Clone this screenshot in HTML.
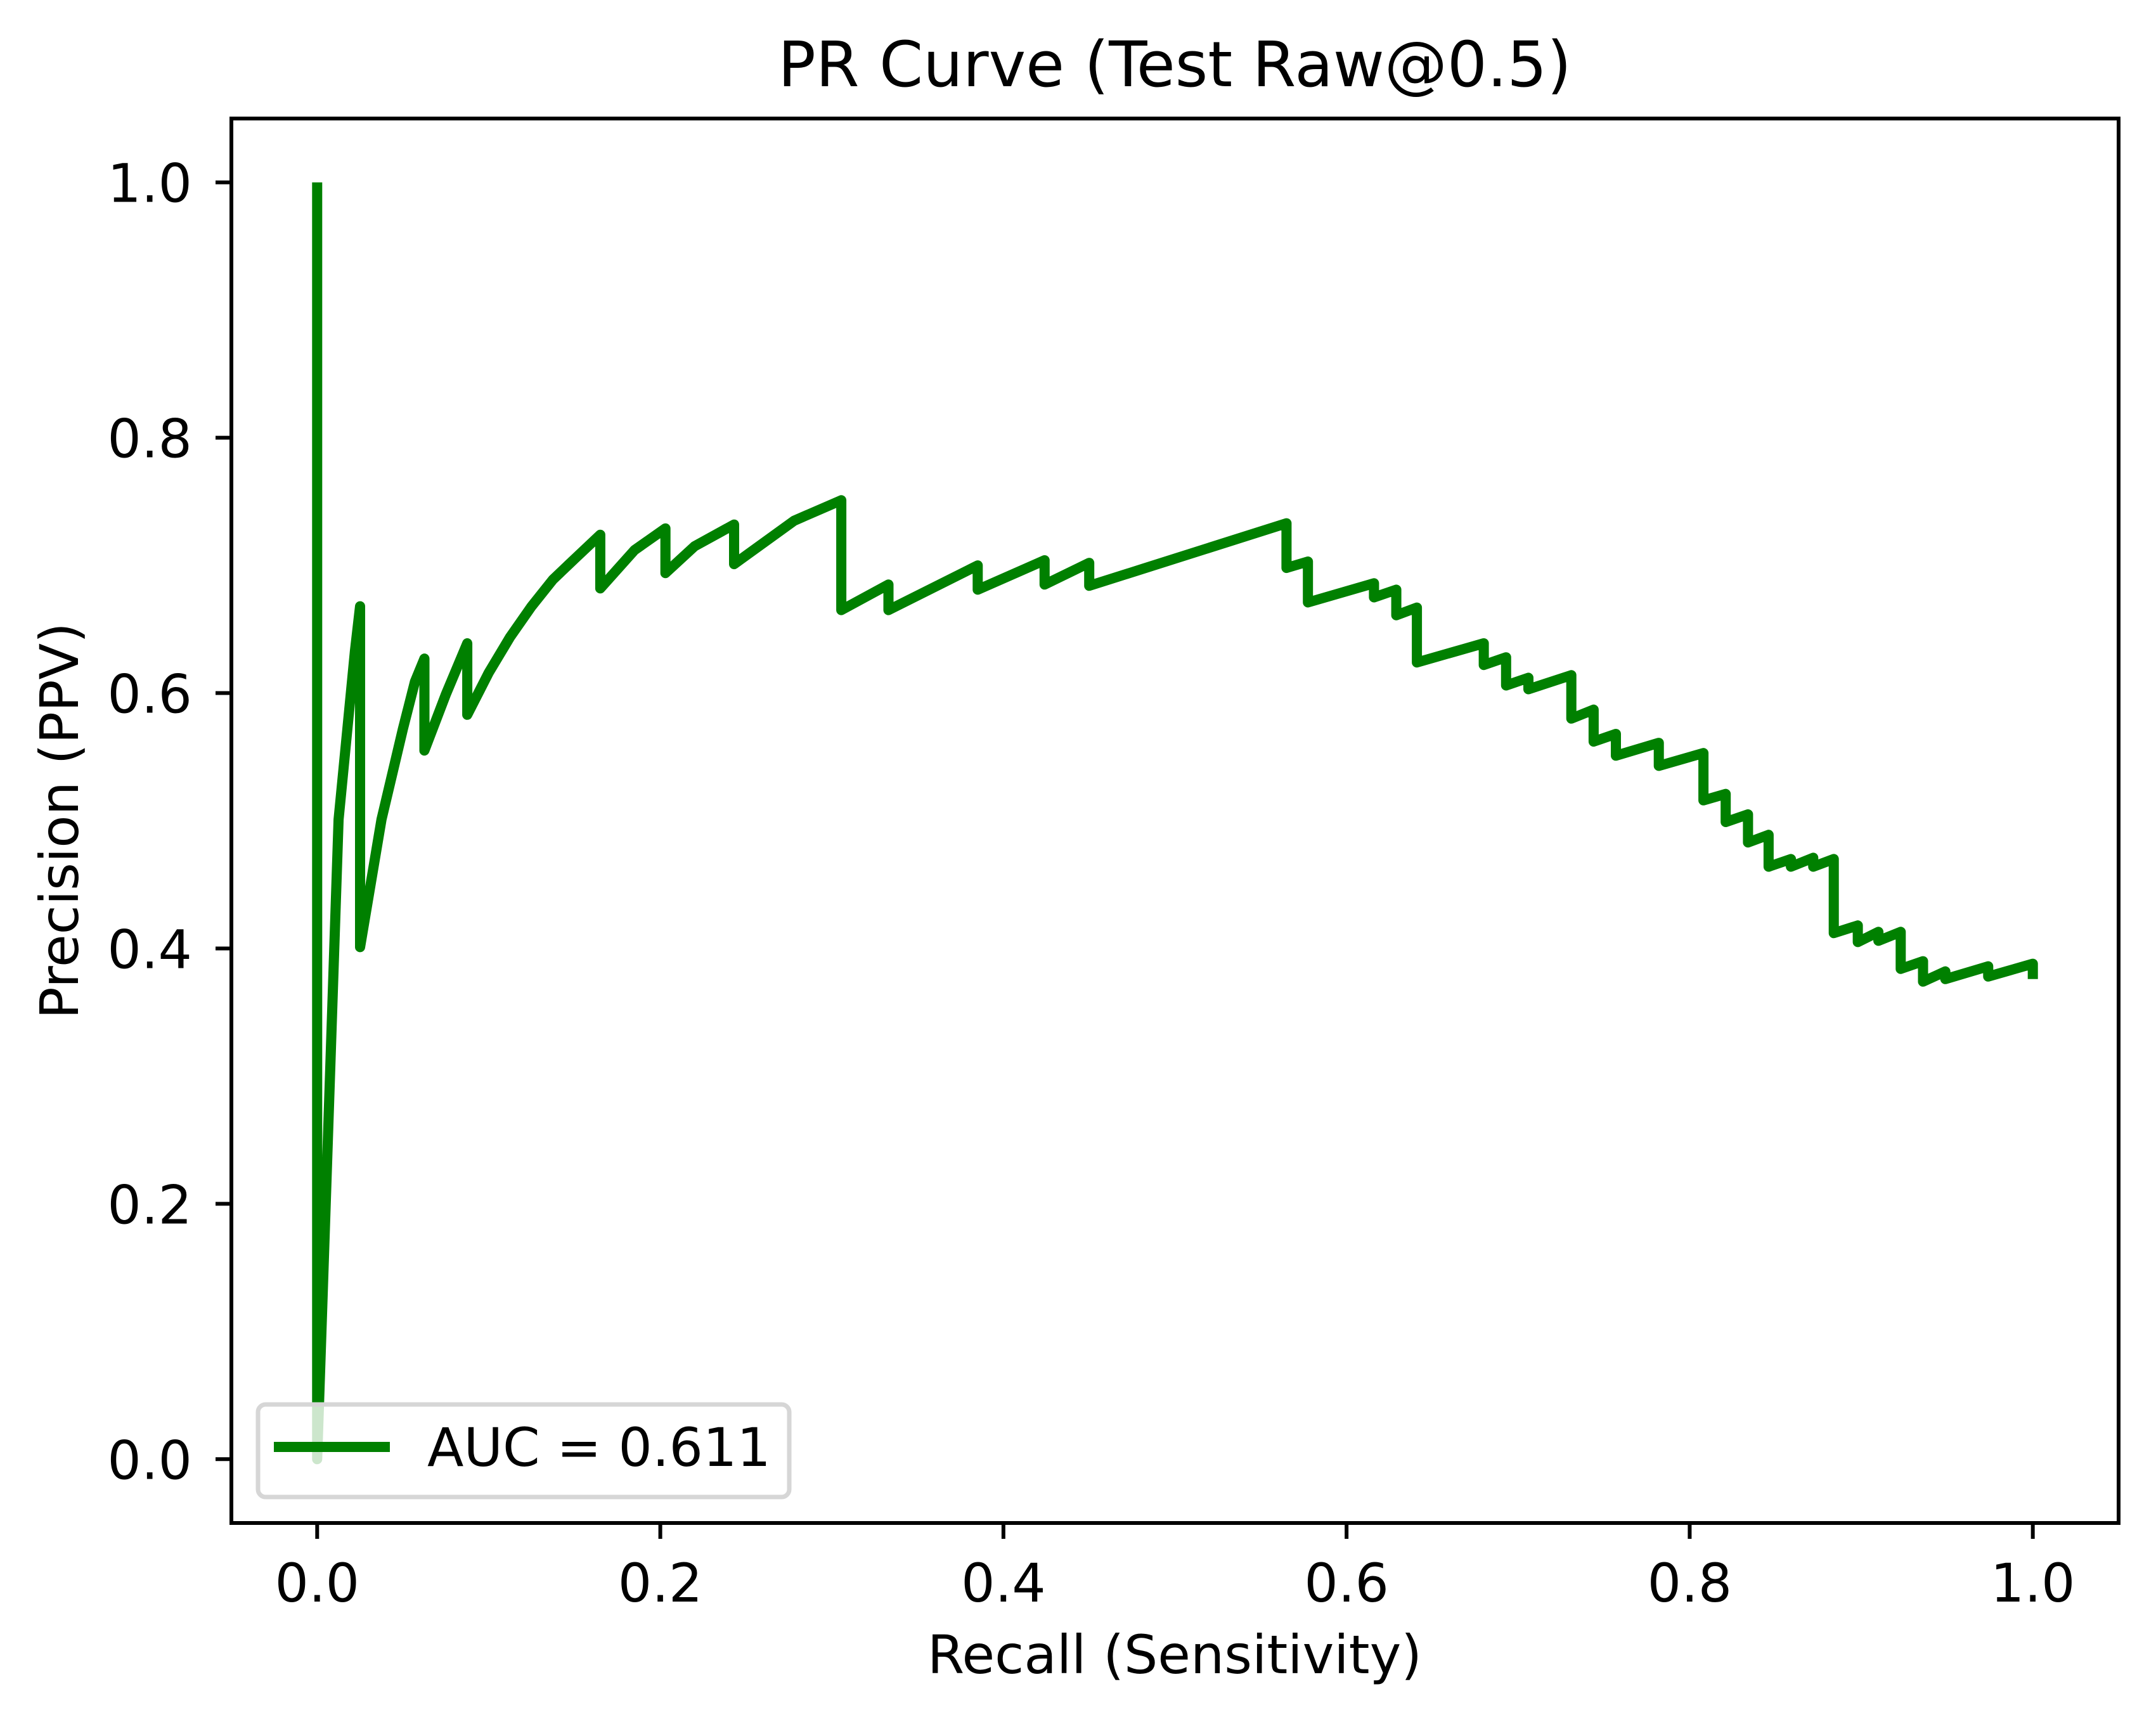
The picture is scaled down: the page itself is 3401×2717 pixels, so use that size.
<!DOCTYPE html>
<html><head><meta charset="utf-8"><style>
html,body{margin:0;padding:0;background:#fff;}
svg{display:block;font-family:"DejaVu Sans","Liberation Sans",sans-serif;}
</style></head><body>
<svg id="chart" width="3401" height="2717" viewBox="0 0 3401 2717" xmlns="http://www.w3.org/2000/svg">
<rect width="3401" height="2717" fill="#fff"/>
<g id="plot"></g>
<text x="1853" y="136" font-size="99" text-anchor="middle">PR Curve (Test Raw@0.5)</text>
<text x="1853" y="2640" font-size="84" text-anchor="middle">Recall (Sensitivity)</text>
<text x="123" y="1295" font-size="84" text-anchor="middle" transform="rotate(-90 123 1295)">Precision (PPV)</text>
</svg>
<script>
const recall = [0,0,0.0125,0.022,0.025,0.025,0.0375,0.05,0.057,0.0625,0.0625,0.075,0.0875,0.0875,0.1,0.1125,0.125,0.1375,0.15,0.165,0.165,0.185,0.203,0.203,0.22,0.243,0.243,0.278,0.3055,0.3055,0.333,0.333,0.385,0.385,0.424,0.424,0.450,0.450,0.565,0.565,0.5775,0.5775,0.616,0.616,0.629,0.629,0.641,0.641,0.680,0.680,0.693,0.693,0.706,0.706,0.731,0.731,0.744,0.744,0.757,0.757,0.782,0.782,0.808,0.808,0.821,0.821,0.834,0.834,0.846,0.846,0.859,0.859,0.872,0.872,0.884,0.884,0.898,0.898,0.910,0.910,0.923,0.923,0.936,0.936,0.949,0.949,0.974,0.974,1.0,1.0];
const precision = [1.0,0.0,0.501,0.633,0.668,0.401,0.501,0.572,0.609,0.627,0.555,0.599,0.639,0.583,0.616,0.644,0.668,0.689,0.705,0.724,0.682,0.712,0.729,0.694,0.715,0.732,0.701,0.735,0.751,0.665,0.685,0.665,0.700,0.681,0.704,0.685,0.702,0.684,0.733,0.698,0.703,0.671,0.686,0.675,0.681,0.661,0.667,0.624,0.639,0.622,0.628,0.606,0.612,0.603,0.614,0.580,0.587,0.562,0.568,0.551,0.561,0.543,0.553,0.516,0.521,0.499,0.505,0.483,0.489,0.464,0.470,0.464,0.471,0.464,0.470,0.412,0.418,0.405,0.413,0.406,0.413,0.384,0.390,0.374,0.382,0.376,0.386,0.378,0.388,0.376];
const xTicks = [0,0.2,0.4,0.6,0.8,1.0];
const yTicks = [0,0.2,0.4,0.6,0.8,1.0];
const legendLabel = "AUC = 0.611";

const NS = "http://www.w3.org/2000/svg";
const L = 365, R = 3342, T = 187, B = 2403;
const xMin = -0.05, xMax = 1.05, yMin = -0.05, yMax = 1.05;
function sx(v){ return L + (v - xMin) / (xMax - xMin) * (R - L); }
function sy(v){ return B - (v - yMin) / (yMax - yMin) * (B - T); }
const plot = document.getElementById('plot');
function mk(tag, attrs, parent){
  const e = document.createElementNS(NS, tag);
  for (const k in attrs) e.setAttribute(k, attrs[k]);
  (parent || plot).appendChild(e);
  return e;
}
let d = '';
for (let i = 0; i < recall.length; i++) d += (i ? 'L' : 'M') + sx(recall[i]).toFixed(1) + ',' + sy(precision[i]).toFixed(1);
const curve = mk('path', {d: d, fill: 'none', stroke: '#008000', 'stroke-width': 16, 'stroke-linejoin': 'round', 'stroke-linecap': 'butt'});


const frame = mk('rect', {x: L, y: T, width: R - L, height: B - T, fill: 'none', stroke: '#000', 'stroke-width': 6});


xTicks.forEach(function(v){
  const x = sx(v);
  const t = mk('line', {x1: x, x2: x, y1: B, y2: B + 25, stroke: '#000', 'stroke-width': 6});
  
  
  const lb = mk('text', {x: x, y: 2527, 'font-size': 84, 'text-anchor': 'middle'});
  lb.textContent = v.toFixed(1);
  
  
});
yTicks.forEach(function(v){
  const y = sy(v);
  const t = mk('line', {x1: L - 25, x2: L, y1: y, y2: y, stroke: '#000', 'stroke-width': 6});
  
  
  const lb = mk('text', {x: 303, y: y + 31, 'font-size': 84, 'text-anchor': 'end'});
  lb.textContent = v.toFixed(1);
  
  
});
const lg = mk('g', {});


const box = mk('rect', {x: 407, y: 2216, width: 838, height: 146, rx: 12, fill: 'rgba(255,255,255,0.8)', stroke: '#d6d6d6', 'stroke-width': 7}, lg);


const ll = mk('line', {x1: 432, x2: 615, y1: 2283, y2: 2283, stroke: '#008000', 'stroke-width': 16}, lg);


const lt = mk('text', {x: 674, y: 2313, 'font-size': 84}, lg);
lt.textContent = legendLabel;


</script>
</body></html>
